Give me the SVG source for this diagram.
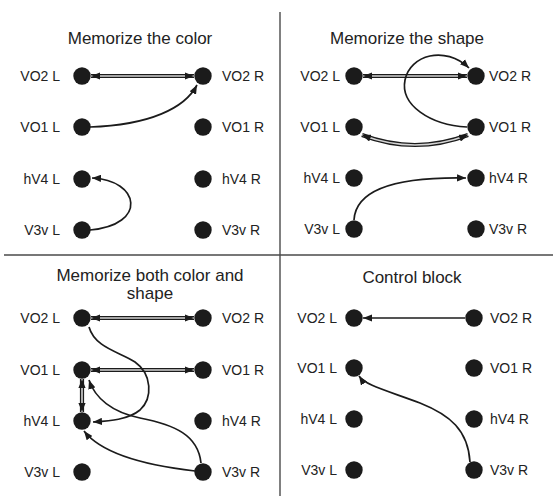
<svg xmlns="http://www.w3.org/2000/svg" width="554" height="499" viewBox="0 0 554 499">
  <style>
    .bg { fill: #ffffff; }
    .divider { stroke: #4a4a4a; stroke-width: 1.4; fill: none; }
    .title { font-family: "Liberation Sans", Arial, sans-serif; font-size: 17px; fill: #222; text-anchor: middle; }
    .lbl { font-family: "Liberation Sans", Arial, sans-serif; font-size: 14px; fill: #222; }
    .lbl.l { text-anchor: end; }
    .lbl.r { text-anchor: start; }
    .node circle { fill: #1b1b1b; }
    .single { stroke: #1b1b1b; stroke-width: 1.7; fill: none; marker-end: url(#ah); }
    .dbl-out { stroke: #1b1b1b; stroke-width: 4.2; fill: none; }
    .dbl-in { stroke: #d4d4d4; stroke-width: 1.6; fill: none; }
    .dbl-mk { stroke: none; fill: none; marker-start: url(#ah); marker-end: url(#ah); }
  </style>
  <defs>
    <marker id="ah" viewBox="0 0 10 8" refX="10" refY="4" markerWidth="9" markerHeight="7.5" markerUnits="userSpaceOnUse" orient="auto-start-reverse">
      <path d="M0,0 L10,4 L0,8 z" fill="#1b1b1b"/>
    </marker>
  </defs>

  <rect class="bg" x="0" y="0" width="554" height="499"/>

  <!-- quadrant dividers -->
  <g id="dividers">
    <line class="divider" x1="280" y1="12" x2="280" y2="496"/>
    <line class="divider" x1="4" y1="255" x2="553" y2="255"/>
  </g>

  <!-- titles -->
  <g id="titles">
    <text class="title" x="140" y="44">Memorize the color</text>
    <text class="title" x="407" y="44">Memorize the shape</text>
    <text class="title" x="150" y="281">Memorize both color and</text>
    <text class="title" x="150" y="299">shape</text>
    <text class="title" x="412" y="283">Control block</text>
  </g>

  <!-- connectors -->
  <g id="connectors">
    <!-- color block -->
    <path class="dbl-out" d="M91 76 H194"/>
    <path class="dbl-in" d="M91 76 H194"/>
    <path class="dbl-mk" d="M91 76 H194"/>
    <path class="single" d="M90 127 C150 125 185 108 197 85"/>
    <path class="single" d="M90 230 C148 225 140 180 92 178"/>

    <!-- shape block -->
    <path class="dbl-out" d="M363 76 H467"/>
    <path class="dbl-in" d="M363 76 H467"/>
    <path class="dbl-mk" d="M363 76 H467"/>
    <path class="single" d="M467 127 C430 125 400 105 405 80 C410 55 445 45 469 68"/>
    <path class="dbl-out" d="M362 135 Q415 155 468 135"/>
    <path class="dbl-in" d="M362 135 Q415 155 468 135"/>
    <path class="dbl-mk" d="M362 135 Q415 155 468 135"/>
    <path class="single" d="M354 220 C356 185 410 177 466 178"/>

    <!-- color and shape block -->
    <path class="dbl-out" d="M91 318 H194"/>
    <path class="dbl-in" d="M91 318 H194"/>
    <path class="dbl-mk" d="M91 318 H194"/>
    <path class="dbl-out" d="M91 370 H194"/>
    <path class="dbl-in" d="M91 370 H194"/>
    <path class="dbl-mk" d="M91 370 H194"/>
    <path class="dbl-out" d="M82 379 V412"/>
    <path class="dbl-in" d="M82 379 V412"/>
    <path class="dbl-mk" d="M82 379 V412"/>
    <path class="single" d="M89 327 C95 348 120 352 135 362 C152 374 153 398 140 410 C128 420 108 421 93 422"/>
    <path class="single" d="M201 463 C198 435 175 425 140 418 C112 412 95 398 89 380"/>
    <path class="single" d="M195 471 C160 467 105 458 84 431"/>

    <!-- control block -->
    <path class="single" d="M465 318 H363"/>
    <path class="single" d="M470 462 C468 430 450 415 420 403 C385 390 365 385 359 376"/>
  </g>

  <!-- color block nodes -->
  <g id="c-vo2l" class="node"><circle cx="82" cy="76" r="8.7"/><text class="lbl l" x="60" y="81">VO2 L</text></g>
  <g id="c-vo2r" class="node"><circle cx="203" cy="76" r="8.7"/><text class="lbl r" x="222" y="81">VO2 R</text></g>
  <g id="c-vo1l" class="node"><circle cx="82" cy="127" r="8.7"/><text class="lbl l" x="60" y="132">VO1 L</text></g>
  <g id="c-vo1r" class="node"><circle cx="203" cy="127" r="8.7"/><text class="lbl r" x="222" y="132">VO1 R</text></g>
  <g id="c-hv4l" class="node"><circle cx="82" cy="179" r="8.7"/><text class="lbl l" x="60" y="184">hV4 L</text></g>
  <g id="c-hv4r" class="node"><circle cx="203" cy="179" r="8.7"/><text class="lbl r" x="222" y="184">hV4 R</text></g>
  <g id="c-v3vl" class="node"><circle cx="82" cy="230" r="8.7"/><text class="lbl l" x="60" y="235">V3v L</text></g>
  <g id="c-v3vr" class="node"><circle cx="203" cy="230" r="8.7"/><text class="lbl r" x="222" y="235">V3v R</text></g>

  <!-- shape block nodes -->
  <g id="s-vo2l" class="node"><circle cx="354" cy="76" r="8.7"/><text class="lbl l" x="340" y="81">VO2 L</text></g>
  <g id="s-vo2r" class="node"><circle cx="476" cy="76" r="8.7"/><text class="lbl r" x="489" y="81">VO2 R</text></g>
  <g id="s-vo1l" class="node"><circle cx="354" cy="127" r="8.7"/><text class="lbl l" x="340" y="132">VO1 L</text></g>
  <g id="s-vo1r" class="node"><circle cx="476" cy="127" r="8.7"/><text class="lbl r" x="489" y="132">VO1 R</text></g>
  <g id="s-hv4l" class="node"><circle cx="354" cy="178" r="8.7"/><text class="lbl l" x="340" y="183">hV4 L</text></g>
  <g id="s-hv4r" class="node"><circle cx="476" cy="178" r="8.7"/><text class="lbl r" x="489" y="183">hV4 R</text></g>
  <g id="s-v3vl" class="node"><circle cx="354" cy="229" r="8.7"/><text class="lbl l" x="340" y="234">V3v L</text></g>
  <g id="s-v3vr" class="node"><circle cx="476" cy="229" r="8.7"/><text class="lbl r" x="489" y="234">V3v R</text></g>

  <!-- color and shape block nodes -->
  <g id="b-vo2l" class="node"><circle cx="82" cy="318" r="8.7"/><text class="lbl l" x="60" y="323">VO2 L</text></g>
  <g id="b-vo2r" class="node"><circle cx="203" cy="318" r="8.7"/><text class="lbl r" x="222" y="323">VO2 R</text></g>
  <g id="b-vo1l" class="node"><circle cx="82" cy="370" r="8.7"/><text class="lbl l" x="60" y="375">VO1 L</text></g>
  <g id="b-vo1r" class="node"><circle cx="203" cy="370" r="8.7"/><text class="lbl r" x="222" y="375">VO1 R</text></g>
  <g id="b-hv4l" class="node"><circle cx="82" cy="421" r="8.7"/><text class="lbl l" x="60" y="426">hV4 L</text></g>
  <g id="b-hv4r" class="node"><circle cx="203" cy="421" r="8.7"/><text class="lbl r" x="222" y="426">hV4 R</text></g>
  <g id="b-v3vl" class="node"><circle cx="82" cy="472" r="8.7"/><text class="lbl l" x="60" y="477">V3v L</text></g>
  <g id="b-v3vr" class="node"><circle cx="203" cy="472" r="8.7"/><text class="lbl r" x="222" y="477">V3v R</text></g>

  <!-- control block nodes -->
  <g id="k-vo2l" class="node"><circle cx="354" cy="318" r="8.7"/><text class="lbl l" x="337" y="323">VO2 L</text></g>
  <g id="k-vo2r" class="node"><circle cx="474" cy="318" r="8.7"/><text class="lbl r" x="490" y="323">VO2 R</text></g>
  <g id="k-vo1l" class="node"><circle cx="354" cy="368" r="8.7"/><text class="lbl l" x="337" y="373">VO1 L</text></g>
  <g id="k-vo1r" class="node"><circle cx="474" cy="368" r="8.7"/><text class="lbl r" x="490" y="373">VO1 R</text></g>
  <g id="k-hv4l" class="node"><circle cx="354" cy="419" r="8.7"/><text class="lbl l" x="337" y="424">hV4 L</text></g>
  <g id="k-hv4r" class="node"><circle cx="474" cy="419" r="8.7"/><text class="lbl r" x="490" y="424">hV4 R</text></g>
  <g id="k-v3vl" class="node"><circle cx="354" cy="470" r="8.7"/><text class="lbl l" x="337" y="475">V3v L</text></g>
  <g id="k-v3vr" class="node"><circle cx="474" cy="470" r="8.7"/><text class="lbl r" x="490" y="475">V3v R</text></g>
</svg>
